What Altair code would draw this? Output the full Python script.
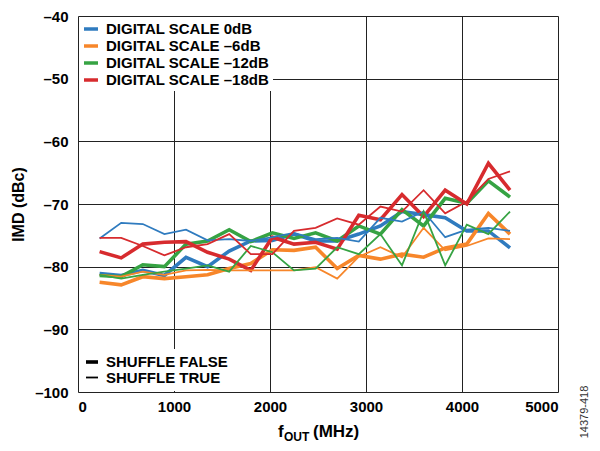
import altair as alt
import pandas as pd

freqs = [225, 450, 675, 900, 1125, 1350, 1575, 1800, 2025, 2250,
         2475, 2700, 2925, 3150, 3375, 3600, 3825, 4050, 4275, 4500]

scale_names = ["DIGITAL SCALE 0dB", "DIGITAL SCALE \u20136dB",
               "DIGITAL SCALE \u201312dB", "DIGITAL SCALE \u201318dB"]
scale_colors = ["#2f7bbf", "#f7862a", "#36a343", "#d72b2e"]
shuffle_names = ["SHUFFLE FALSE", "SHUFFLE TRUE"]

# SHUFFLE FALSE (thick)
s0_false = [-81.1, -81.4, -80.6, -81.4, -78.5, -80.0, -77.5, -75.9, -75.8, -74.8,
            -75.9, -75.9, -74.8, -73.5, -71.2, -71.7, -72.2, -74.3, -74.3, -77.0]
s6_false = [-82.5, -82.9, -81.6, -81.9, -81.6, -81.3, -80.3, -79.5, -77.3, -77.4,
            -76.9, -80.3, -78.2, -78.8, -78.0, -78.5, -77.0, -76.4, -71.5, -74.8]
s12_false = [-81.4, -81.6, -79.7, -80.0, -76.4, -75.9, -74.1, -76.0, -74.6, -75.5,
             -74.6, -75.9, -73.5, -74.8, -70.9, -73.5, -69.1, -69.9, -66.3, -68.9]
s18_false = [-77.6, -78.6, -76.4, -76.1, -76.0, -77.7, -78.8, -80.6, -75.3, -76.4,
             -76.1, -77.2, -71.8, -72.5, -68.5, -72.0, -67.8, -70.0, -63.5, -67.8]

# SHUFFLE TRUE (thin)
s0_true = [-75.5, -73.0, -73.2, -74.8, -74.1, -75.8, -75.6, -75.9, -75.3, -74.6,
           -75.6, -75.4, -76.0, -72.2, -72.8, -71.2, -75.3, -74.1, -73.8, -74.3]
s6_true = [-81.3, -81.6, -80.8, -81.3, -80.6, -80.5, -80.6, -80.6, -80.6, -80.6,
           -80.1, -81.9, -78.4, -76.9, -78.5, -73.8, -77.4, -76.7, -75.5, -75.6]
s12_true = [-81.3, -81.9, -81.3, -80.8, -80.3, -79.8, -80.8, -76.7, -77.7, -80.6,
            -80.3, -76.9, -78.0, -74.8, -79.8, -71.2, -79.8, -73.3, -74.8, -71.2]
s18_true = [-75.4, -75.4, -76.7, -78.2, -76.9, -76.4, -74.8, -78.0, -78.0, -74.3,
            -73.8, -72.3, -73.3, -70.4, -71.2, -67.8, -71.5, -69.6, -66.0, -64.8]

x_ticks = [0, 1000, 2000, 3000, 4000, 5000]
y_ticks = [-100, -90, -80, -70, -60, -50, -40]

series = [
    (scale_names[0], shuffle_names[0], s0_false),
    (scale_names[1], shuffle_names[0], s6_false),
    (scale_names[2], shuffle_names[0], s12_false),
    (scale_names[3], shuffle_names[0], s18_false),
    (scale_names[0], shuffle_names[1], s0_true),
    (scale_names[1], shuffle_names[1], s6_true),
    (scale_names[2], shuffle_names[1], s12_true),
    (scale_names[3], shuffle_names[1], s18_true),
]
rows = []
for sc, sh, vals in series:
    for f, v in zip(freqs, vals):
        rows.append({"freq": f, "imd": v, "scale": sc, "shuffle": sh})
df = pd.DataFrame(rows)

FONT = "Liberation Sans"

lines = alt.Chart(df).mark_line(strokeJoin="miter").encode(
    x=alt.X("freq:Q",
            scale=alt.Scale(domain=[0, 5000], nice=False),
            axis=alt.Axis(values=x_ticks, format="d", title=None, ticks=False, labelPadding=7,
                          labelFont=FONT, labelFontSize=15, labelFontWeight="bold",
                          labelColor="black", grid=True, gridColor="#222",
                          gridWidth=1, domain=False)),
    y=alt.Y("imd:Q",
            scale=alt.Scale(domain=[-100, -40], nice=False),
            axis=alt.Axis(values=y_ticks, title="IMD (dBc)", ticks=False, labelPadding=10,
                          labelExpr="datum.value < 0 ? '\u2013' + abs(datum.value) : datum.value",
                          labelFont=FONT, labelFontSize=15, labelFontWeight="bold",
                          labelColor="black", titleFont=FONT, titleFontSize=16,
                          titleFontWeight="bold", titleColor="black", titlePadding=8,
                          grid=True, gridColor="#222", gridWidth=1, domain=False)),
    color=alt.Color("scale:N",
                    scale=alt.Scale(domain=scale_names, range=scale_colors),
                    legend=alt.Legend(title=None, orient="top-left", offset=1,
                                      fillColor="white", padding=3,
                                      symbolType="stroke", symbolSize=196,
                                      symbolStrokeWidth=3.5,
                                      labelFont=FONT, labelFontSize=15,
                                      labelFontWeight="bold", labelColor="black",
                                      labelOffset=6, rowPadding=0, labelLimit=400,
                                      labelExpr="datum.label + '\u00a0\u00a0'")),
    strokeWidth=alt.StrokeWidth("shuffle:O",
                                scale=alt.Scale(domain=shuffle_names, range=[3.6, 1.8]),
                                legend=alt.Legend(title=None, orient="bottom-left", offset=1,
                                                  fillColor="white", padding=5,
                                                  symbolType="stroke", symbolSize=144,
                                                  symbolStrokeColor="black",
                                                  labelFont=FONT, labelFontSize=15,
                                                  labelFontWeight="bold", labelColor="black",
                                                  labelOffset=6, rowPadding=0, labelLimit=400)),
)

def label(txt, x, y, size, weight="bold", angle=0, color="black", align="left"):
    return alt.Chart(pd.DataFrame({"t": [txt]})).mark_text(
        font=FONT, fontSize=size, fontWeight=weight, angle=angle, color=color,
        align=align, baseline="alphabetic").encode(
        text="t:N", x=alt.value(x), y=alt.value(y))

title_f = label("f", 200, 421, 17)
title_out = label("OUT", 206, 425, 12)
title_mhz = label("(MHz)", 235, 421, 17)
watermark = label("14379-418", 510, 396, 11, weight="normal", angle=270,
                  color="#333", align="center")

chart = alt.layer(lines, title_f, title_out, title_mhz, watermark).properties(
    width=480, height=376,
    padding={"left": 70, "top": 8, "right": 34, "bottom": 51},
    autosize="none",
).configure_view(stroke="black", strokeWidth=1.5).configure(background="white")

chart.save("out.html", embed_options={"renderer": "svg", "actions": False})
